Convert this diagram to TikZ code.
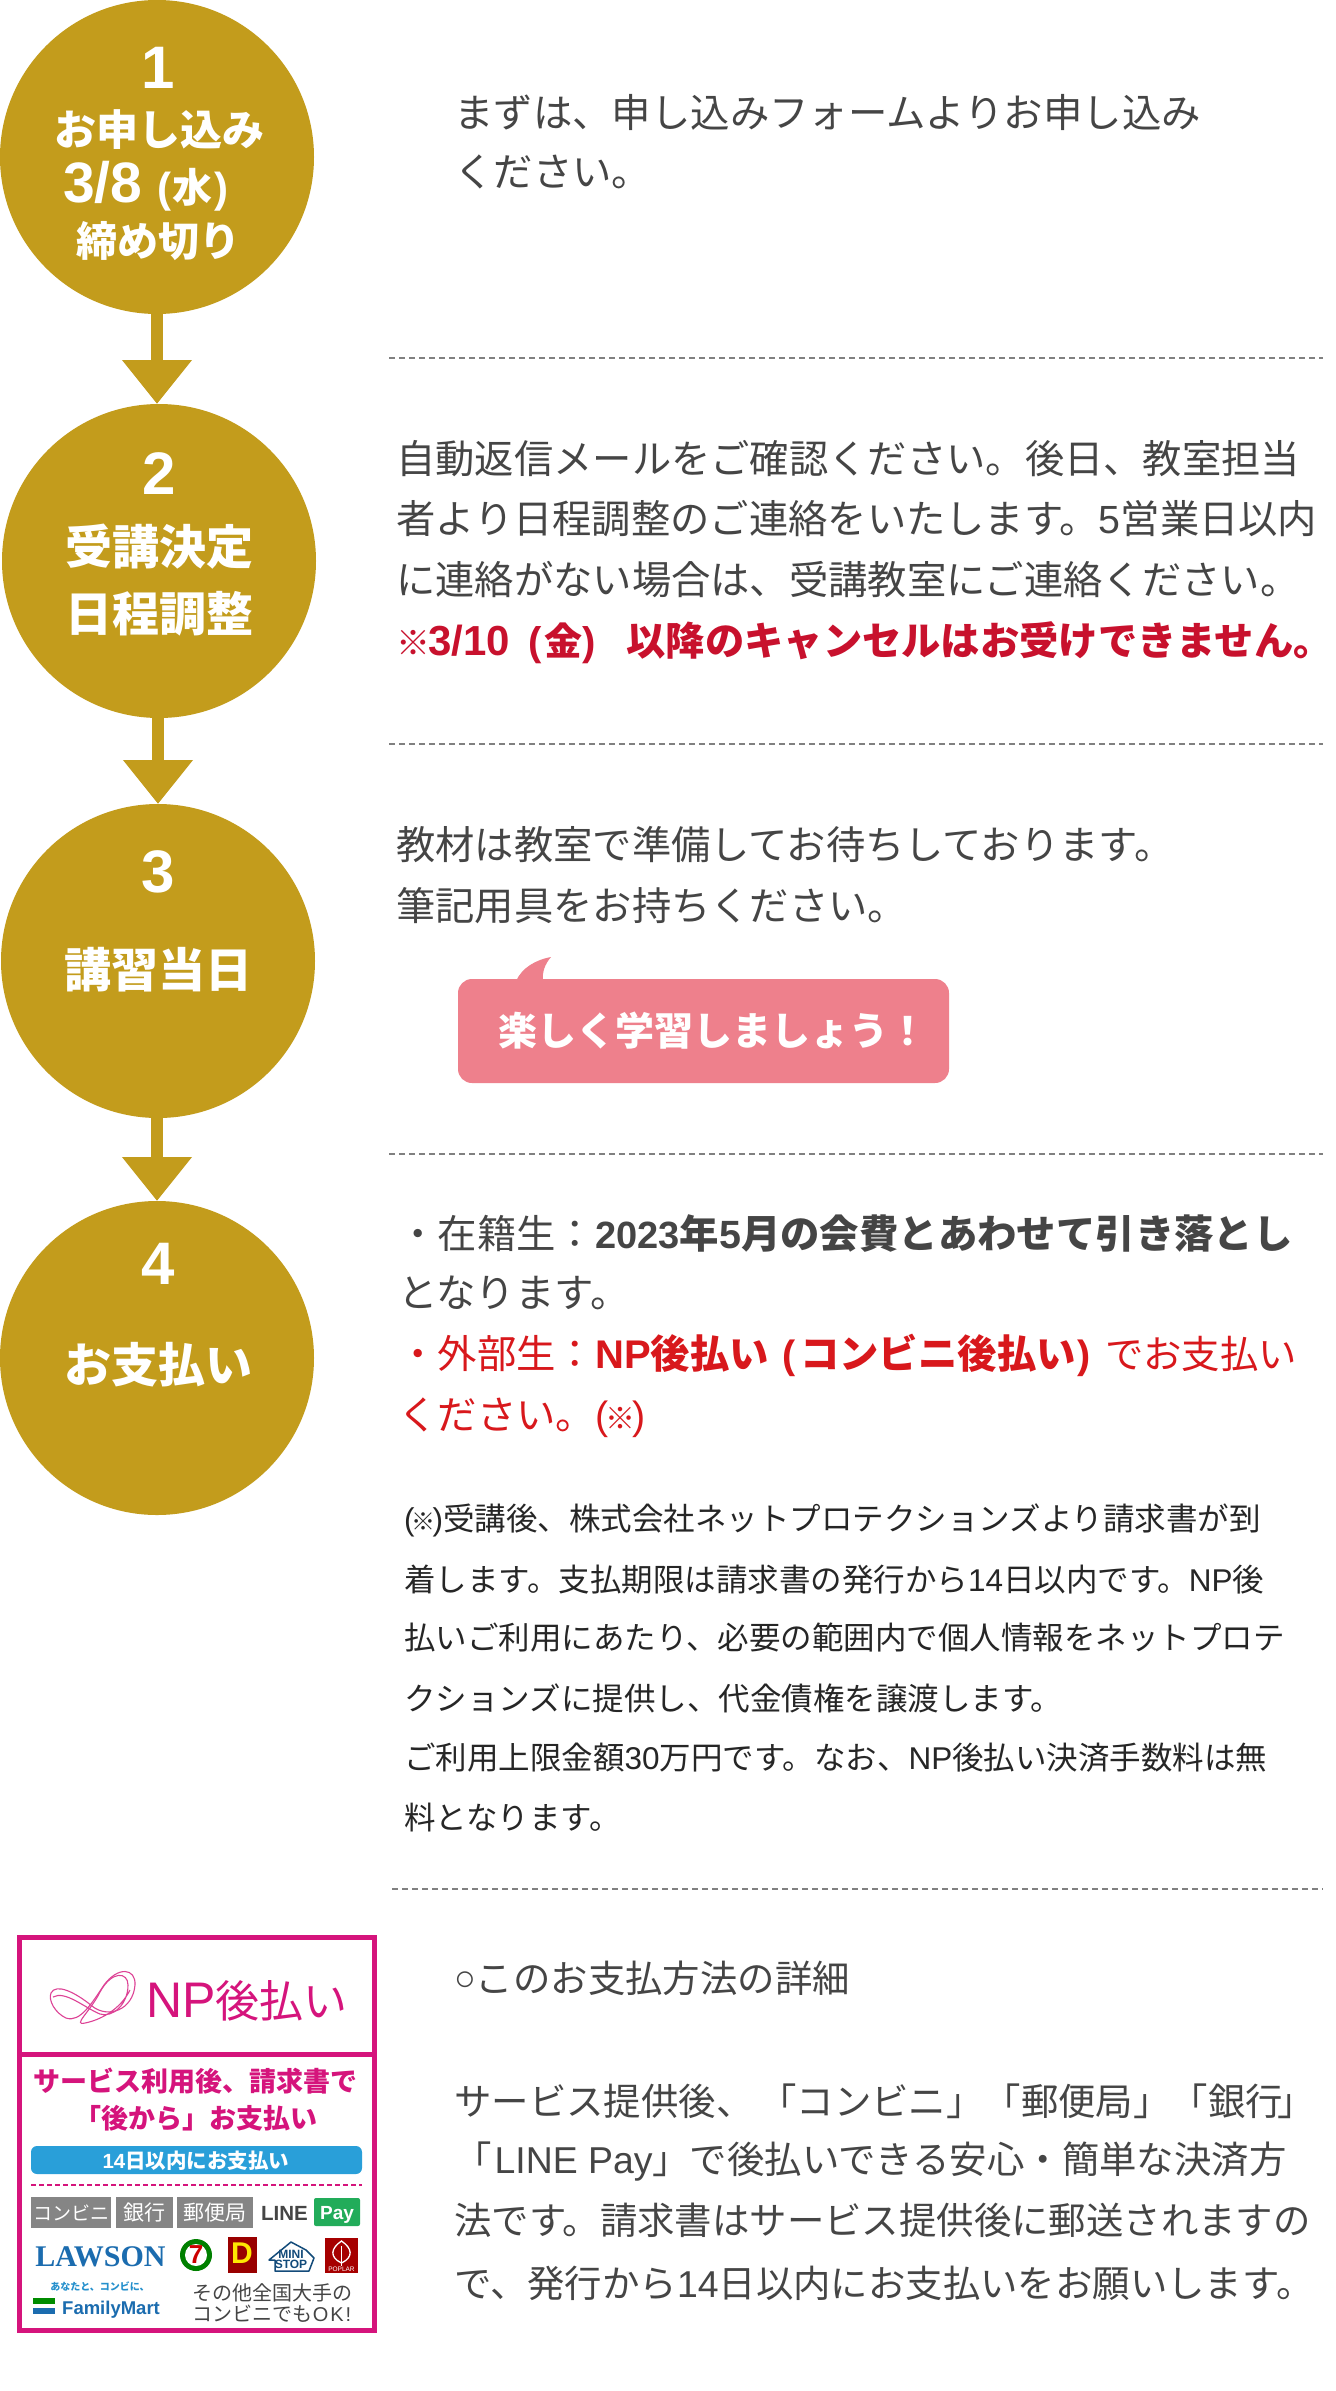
\documentclass[tikz,border=0pt]{standalone}
\usepackage{fontspec}
\usetikzlibrary{arrows.meta}
\setmainfont{Noto Sans CJK JP}
\newfontfamily\lf{Liberation Sans}
\newfontfamily\lsf{Liberation Serif}
\definecolor{gold}{HTML}{C39C1C}
\definecolor{ink}{HTML}{454545}
\definecolor{redt}{HTML}{C8112D}
\definecolor{redb}{HTML}{D8181C}
\definecolor{rose}{HTML}{EE808C}
\definecolor{mag}{HTML}{D5147C}
\definecolor{sky}{HTML}{299FD9}
\definecolor{lbl}{HTML}{1B6CAF}
\definecolor{greyb}{HTML}{858585}
\definecolor{lgreen}{HTML}{22AC5A}
\newcommand{\fsz}[1]{\fontsize{#1}{#1}\selectfont}
\newcommand{\hs}[1]{\hspace*{#1pt}}
\tikzset{
  stepc/.style={circle,fill=gold,minimum size=#1,inner sep=0pt,outer sep=0pt},
  flow/.style={draw=gold,line width=12pt,-{Triangle[length=44pt,width=67pt,fill=gold]}},
  ct/.style={text=white,inner sep=0pt,anchor=base,font=\bfseries},
  ln/.style={text=ink,inner sep=0pt,anchor=base west,font=\fsz{39.4}},
  sm/.style={text=black!85,inner sep=0pt,anchor=base west,font=\fsz{31.5}},
  dashl/.style={draw=black!50,line width=1.5pt,dash pattern=on 6pt off 4pt},
  pk/.style={inner sep=0pt,anchor=base,text=mag,font=\bfseries\fsz{27}},
  greybox/.style={fill=greyb,text=white,inner sep=0pt,font=\fsz{21}},
  ribbon/.style={draw=mag!80,line width=1.1pt},
}
\begin{document}
\begin{tikzpicture}[x=1pt,y=-1pt]
\useasboundingbox (0,0) rectangle (1336,2391);
\fill[white] (0,0) rectangle (1336,2391);
% circles
\node[stepc=314pt] (c1) at (157,157) {};
\node[stepc=314pt] (c2) at (159,561) {};
\node[stepc=314pt] (c3) at (158,961) {};
\node[stepc=314pt] (c4) at (157,1358) {};
\draw[flow] (c1.south) -- (c1.south |- c2.north);
\draw[flow] (c3.north |- c2.south) -- (c3.north);
\draw[flow] (c4.north |- c3.south) -- (c4.north);
% circle text
\node[ct,font=\lf\bfseries\fsz{60}] (n1) at (158,88) {1};
\node[ct,font=\bfseries\fsz{42}] (t1a) at (159,145) {お申し込み};
\node[ct,anchor=base west,font=\lf\bfseries\fsz{57}] (t1b) at (63,202) {3/8\hs{15}{\fsz{42}(\hs{1}{\normalfont\bfseries\fsz{40}水}\hs{2})}};
\node[ct,font=\bfseries\fsz{41}] (t1c) at (158,256) {締め切り};
\node[ct,font=\lf\bfseries\fsz{60}] (n2) at (159,494) {2};
\node[ct,font=\bfseries\fsz{47}] (t2a) at (159,564) {受講決定};
\node[ct,font=\bfseries\fsz{47}] (t2b) at (159,631) {日程調整};
\node[ct,font=\lf\bfseries\fsz{60}] (n3) at (158,892) {3};
\node[ct,font=\bfseries\fsz{47}] (t3) at (158,987) {講習当日};
\node[ct,font=\lf\bfseries\fsz{60}] (n4) at (158,1284) {4};
\node[ct,font=\bfseries\fsz{47}] (t4) at (158,1382) {お支払い};
% section 1
\node[ln] (s1a) at (454,127) {まずは、申し込みフォームよりお申し込み};
\node[ln] (s1b) at (454,186) {ください。};
\coordinate (d1a) at (389,358); \coordinate (d1b) at (1323,358);
\draw[dashl] (d1a) -- (d1b);
% section 2
\node[ln,font=\fsz{39.3}] (s2a) at (396,473) {自動返信メールをご確認ください。後日、教室担当};
\node[ln,font=\fsz{39.3}] (s2b) at (396,533) {者より日程調整のご連絡をいたします。{\lf 5}営業日以内};
\node[ln,font=\fsz{39.3}] (s2c) at (396,594) {に連絡がない場合は、受講教室にご連絡ください。};
\node[ln,text=redt,font=\bfseries\fsz{39.3}] (s2d) at (396,655) {{\fsz{34}※}\hs{-2}{\lf\fsz{42}3/10}\hs{19}{\lf\fsz{40}(}\hs{2}{\fsz{38}金}{\lf\fsz{40})}\hs{31}以降のキャンセルはお受けできません。};
\coordinate (d2a) at (389,744); \coordinate (d2b) at (1323,744);
\draw[dashl] (d2a) -- (d2b);
% section 3
\node[ln,font=\fsz{39.3}] (s3a) at (396,859) {教材は教室で準備してお待ちしております。};
\node[ln,font=\fsz{39.3}] (s3b) at (396,920) {筆記用具をお持ちください。};
\path[fill=rose,rounded corners=14pt] (458,979) rectangle (949,1083);
\path[fill=rose] (516,981) .. controls (522,968) and (535,960) .. (551,957) .. controls (545,964) and (542,972) .. (543,981) -- cycle;
\node[inner sep=0pt,anchor=base west,text=white,font=\bfseries\fsz{39}] (bub) at (498,1045) {楽しく学習しましょう！};
\coordinate (d3a) at (389,1154); \coordinate (d3b) at (1323,1154);
\draw[dashl] (d3a) -- (d3b);
% section 4
\node[ln] (s4a) at (398,1248) {・在籍生：{\bfseries{\lf\fsz{38}2023}年{\lf 5}月の会費とあわせて引き落とし}};
\node[ln] (s4b) at (398,1307) {となります。};
\node[ln,text=redb] (s4c) at (398,1368) {・外部生：{\bfseries{\lf\fsz{40}NP}後払い\hs{14}{\lf (}\hs{4}コンビニ後払い\hs{2}{\lf )}}\hs{14}{\fsz{38.4}でお支払い}};
\node[ln,text=redb] (s4d) at (398,1429) {ください。{\lf (}\hs{-3}{\fsz{30}※}\hs{-3}{\lf )}};
\node[sm] (p1) at (404,1530) {{\lf (}\hs{-3}{\fsz{24}※}\hs{-3}{\lf )}受講後、株式会社ネットプロテクションズより請求書が到};
\node[sm] (p2) at (404,1591) {着します。支払期限は請求書の発行から{\lf 14}日以内です。{\lf NP}後};
\node[sm] (p3) at (404,1649) {払いご利用にあたり、必要の範囲内で個人情報をネットプロテ};
\node[sm] (p4) at (404,1710) {クションズに提供し、代金債権を譲渡します。};
\node[sm] (p5) at (404,1769) {ご利用上限金額{\lf 30}万円です。なお、{\lf NP}後払い決済手数料は無};
\node[sm] (p6) at (404,1829) {料となります。};
\coordinate (d4a) at (392,1889); \coordinate (d4b) at (1323,1889);
\draw[dashl] (d4a) -- (d4b);
% section 5
\node[ln,font=\fsz{37.4}] (s5a) at (454,1992) {\raisebox{2pt}{\lf\fsz{36}○}\hs{0}このお支払方法の詳細};
\node[ln,font=\fsz{37.4}] (s5b) at (454,2115) {サービス提供後、\hs{6}「コンビニ」「郵便局」「銀行\hs{-6}」};
\node[ln,font=\fsz{37.4}] (s5c) at (454,2173) {「\hs{3}{\lf LINE Pay}」で後払いできる安心・簡単な決済方};
\node[ln,font=\fsz{37.4}] (s5d) at (454,2234) {法です。請求書はサービス提供後に郵送されますの};
\node[ln,font=\fsz{37.4}] (s5e) at (454,2297) {で、発行から{\lf 14}日以内にお支払いをお願いします。};
% badge
\draw[mag,line width=5pt] (19,1937) rectangle (374,2330);
\draw[mag,line width=5pt] (19,2054) -- (374,2054);
\draw[ribbon] (51,1993) .. controls (56,1983) and (75,1992) .. (92,2006) .. controls (108,2019) and (133,2010) .. (135,1985) .. controls (136,1968) and (118,1966) .. (104,1985) .. controls (92,2003) and (80,2023) .. (66,2018) .. controls (55,2013) and (48,2000) .. (51,1993) -- cycle;
\draw[ribbon] (53,1997) .. controls (65,1990) and (85,2008) .. (100,2014) .. controls (112,2018) and (128,2005) .. (128,1985) .. controls (128,1972) and (112,1970) .. (100,1992) .. controls (90,2012) and (72,2026) .. (85,2023) .. controls (100,2020) and (120,2010) .. (130,1990);
\node[inner sep=0pt,anchor=base west,text=mag,font=\fsz{44}] (nplogo) at (146,2017) {{\lf\fsz{50}NP}後払い};
\node[pk] (pk1) at (196,2091) {サービス利用後、請求書で};
\node[pk] (pk2) at (196,2128) {「後から」お支払い};
\fill[sky,rounded corners=6pt] (31,2146) rectangle (362,2174);
\node[inner sep=0pt,anchor=base,text=white,font=\bfseries\fsz{20.5}] (blue) at (196,2168) {{\lf 14}日以内にお支払い};
\draw[mag,line width=1.5pt,dash pattern=on 5pt off 3pt] (31,2185) -- (362,2185);
\node[greybox,font=\fsz{19},minimum width=80pt,minimum height=31pt] (g1) at (71,2212.5) {コンビニ};
\node[greybox,minimum width=57pt,minimum height=31pt] (g2) at (144.5,2212.5) {銀行};
\node[greybox,minimum width=76pt,minimum height=31pt] (g3) at (215,2212.5) {郵便局};
\node[inner sep=0pt,anchor=base,text=ink,font=\lf\bfseries\fsz{20.5}] (line) at (284.5,2220) {LINE};
\fill[lgreen,rounded corners=2pt] (314,2198) rectangle (360,2226);
\node[inner sep=0pt,anchor=base,text=white,font=\lf\bfseries\fsz{19}] (pay) at (337,2219) {Pay};
\node[inner sep=0pt,anchor=base,text=lbl,font=\lsf\bfseries\fsz{30}] (lawson) at (100.5,2266) {LAWSON};
% 7-eleven
\fill[green!50!black] (196,2255) circle (16pt);
\fill[white] (196,2255) circle (11pt);
\node[inner sep=0pt,text=red!80!black,font=\lf\bfseries\fsz{26}] (seven) at (196,2255) {7};
% daily
\fill[red!60!black] (228,2237) rectangle (257,2273);
\node[inner sep=0pt,text=yellow!90!orange,font=\lf\bfseries\fsz{30}] (daily) at (242,2253) {D};
% ministop
\draw[lbl!70!black,line width=1.5pt,line join=round] (269,2260) -- (291,2242) -- (306,2250) -- (314,2258) -- (309,2271) -- (275,2271) -- (275,2260) -- cycle;
\node[inner sep=0pt,align=center,text=lbl!70!black,font=\lf\bfseries\fsz{12}] (mini) at (291,2259) {MINI\\[-2pt]STOP};
% poplar
\fill[red!65!black] (325,2238) rectangle (358,2273);
\draw[white,line width=1.3pt] (341.5,2241) .. controls (331,2248) and (329,2257) .. (341.5,2263) .. controls (354,2257) and (352,2248) .. (341.5,2241) -- cycle;
\draw[white,line width=1pt] (341.5,2246) -- (341.5,2266);
\node[inner sep=0pt,text=white,font=\lf\fsz{6.5}] (poplar) at (341.5,2269.5) {POPLAR};
% familymart
\node[inner sep=0pt,anchor=base,text=sky!70!lbl,font=\bfseries\fsz{10}] (fm1) at (100,2290) {あなたと、コンビに、};
\fill[green!55!black] (33,2298) rectangle (55,2304);
\fill[lbl] (33,2308) rectangle (55,2314);
\node[inner sep=0pt,anchor=base west,text=lbl,font=\lf\bfseries\fsz{18.5}] (fm2) at (62,2314) {FamilyMart};
\node[inner sep=0pt,anchor=base,text=ink,font=\fsz{20}] (o1) at (272,2300) {その他全国大手の};
\node[inner sep=0pt,anchor=base,text=ink,font=\fsz{20}] (o2) at (272,2321) {コンビニでも{\lf O\hs{2}K\hs{2}!}};
\end{tikzpicture}
\end{document}
